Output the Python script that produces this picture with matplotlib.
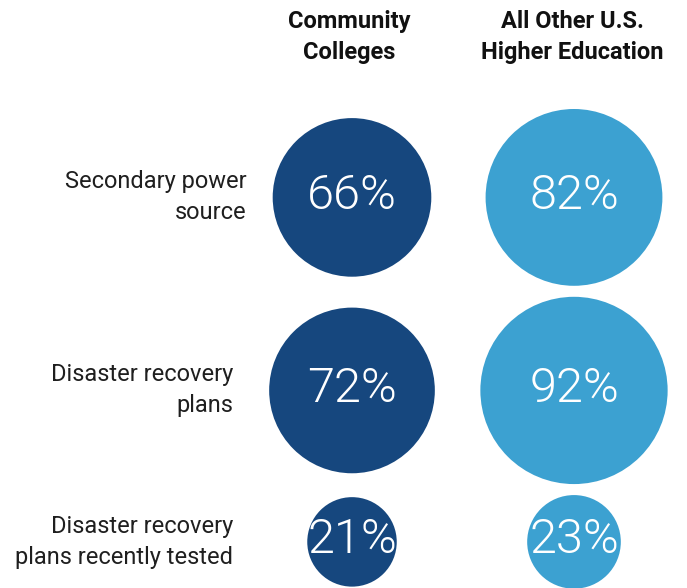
import numpy as np
import matplotlib
matplotlib.use("Agg")
import matplotlib.pyplot as plt
from matplotlib.patches import Circle

# Data (percent of institutions)
measures = ["Secondary power\nsource", "Disaster recovery\nplans", "Disaster recovery\nplans recently tested"]
groups = ["Community\nColleges", "All Other U.S.\nHigher Education"]
community = [66, 72, 21]
all_other = [82, 92, 23]

dark_blue = "#16477e"
light_blue = "#3ca1d1"

# Layout in pixels (axes spans the whole figure, 1 unit = 1 px)
W, H = 687, 588
col_x = [352, 574]
top_y = 109
row_gap = 11
area_per_pct = 95.3   # circle area is proportional to the value
label_right = [247, 233, 233]

plt.rcParams["font.family"] = ["Roboto", "DejaVu Sans"]

fig = plt.figure(figsize=(W / 100, H / 100), dpi=100)
ax = fig.add_axes([0, 0, 1, 1])
ax.set_xlim(0, W)
ax.set_ylim(H, 0)
ax.axis("off")

values = np.array([community, all_other])  # shape (group, row)
radii = np.sqrt(values * area_per_pct)
colors = [dark_blue, light_blue]

# stack rows so the biggest circle of each row sits just below the previous one
row_max = radii.max(axis=0)
row_y = []
y = top_y
for r in row_max:
    row_y.append(y + r)
    y += 2 * r + row_gap

for g in range(len(groups)):
    for i in range(len(measures)):
        ax.add_patch(Circle((col_x[g], row_y[i]), radii[g, i], color=colors[g], lw=0))
        ax.text(col_x[g], row_y[i] - 2, f"{values[g, i]}%", ha="center", va="center",
                color="white", fontsize=35, fontweight=300)

for i, m in enumerate(measures):
    ax.text(label_right[i], row_y[i], m, ha="right", va="center", multialignment="right",
            fontsize=17, color="#1f1f1f", linespacing=1.45)

header_x = [349, 572]
for g, name in enumerate(groups):
    ax.text(header_x[g], 37, name, ha="center", va="center", fontsize=17,
            fontweight="bold", color="#111111", linespacing=1.45)

fig.savefig("out.png", dpi=100)
